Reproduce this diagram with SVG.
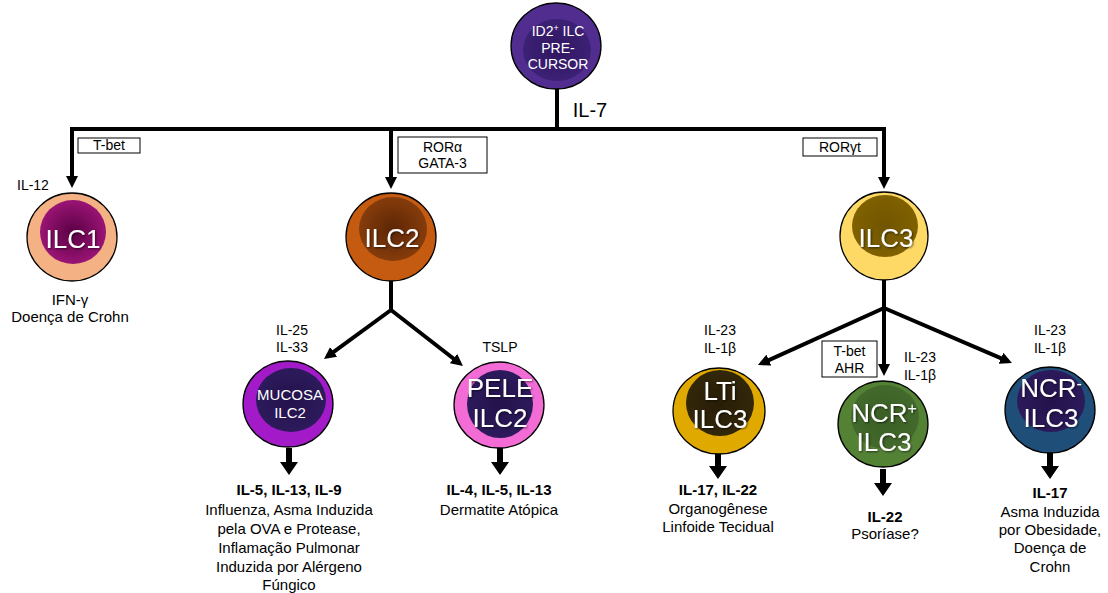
<svg xmlns="http://www.w3.org/2000/svg" xmlns:xlink="http://www.w3.org/1999/xlink" width="1108" height="593" viewBox="0 0 1108 593">
<defs>
<style>
text{font-family:"Liberation Sans",Arial,sans-serif;fill:#000;text-anchor:middle}
.lbl{font-size:14px}
.desc{font-size:15px}
.bold{font-size:15px;font-weight:bold}
.node{font-size:26px;fill:#fff;filter:url(#sh)}
.small{font-size:14px;fill:#fff}
.mid{font-size:15px;fill:#fff}
.outer{stroke:#000;stroke-width:1.3}
.conn{fill:none;stroke:#000;stroke-width:4;stroke-linejoin:miter}
.box{fill:#fff;stroke:#000;stroke-width:1}
</style>
<filter id="sh" x="-20%" y="-20%" width="140%" height="140%">
<feDropShadow dx="1" dy="1" stdDeviation="0.8" flood-color="#000" flood-opacity="0.6"/>
</filter>
<marker id="ah" viewBox="0 0 12 12" refX="8" refY="6" markerWidth="12" markerHeight="12" markerUnits="userSpaceOnUse" orient="auto">
<path d="M0,0 L12,6 L0,12 z" fill="#000"/>
</marker>
<path id="big" d="M-3,0 h6 v14 h6 l-9,13 l-9,-13 h6 z" fill="#000"/>
<radialGradient id="gTop"><stop offset="0" stop-color="#2f1660"/><stop offset="1" stop-color="#3d2176"/></radialGradient>
<radialGradient id="g1"><stop offset="0" stop-color="#5a0044"/><stop offset="1" stop-color="#9a1475"/></radialGradient>
<radialGradient id="g2"><stop offset="0" stop-color="#5c2605"/><stop offset="1" stop-color="#863c0b"/></radialGradient>
<radialGradient id="g3"><stop offset="0" stop-color="#715500"/><stop offset="1" stop-color="#806100"/></radialGradient>
<radialGradient id="gD"><stop offset="0" stop-color="#24124c"/><stop offset="1" stop-color="#2c1a5c"/></radialGradient>
<radialGradient id="gL"><stop offset="0" stop-color="#271d06"/><stop offset="1" stop-color="#33270a"/></radialGradient>
<radialGradient id="gN"><stop offset="0" stop-color="#3a5f25"/><stop offset="1" stop-color="#43692c"/></radialGradient>
</defs>

<g id="connectors">
<path class="conn" d="M557,88 V129"/>
<path class="conn" d="M72,184 V129 H884 V185" marker-end="url(#ah)"/>
<path class="conn" d="M72,129 V184" marker-end="url(#ah)"/>
<path class="conn" d="M391,129 V185" marker-end="url(#ah)"/>
<path class="conn" d="M391,281 V310"/>
<path class="conn" d="M391,310 L327.2,356.6" marker-end="url(#ah)"/>
<path class="conn" d="M391,310 L459.8,363.5" marker-end="url(#ah)"/>
<path class="conn" d="M884,280 V308"/>
<path class="conn" d="M884,308 L761.6,363.4" marker-end="url(#ah)"/>
<path class="conn" d="M884,308 V372" marker-end="url(#ah)"/>
<path class="conn" d="M884,308 L1008.3,361.4" marker-end="url(#ah)"/>
<use href="#big" x="289" y="448"/>
<use href="#big" x="500" y="448"/>
<use href="#big" x="718" y="452"/>
<use href="#big" x="883" y="469"/>
<use href="#big" x="1050" y="452"/>
</g>

<g id="il7"><text x="590" y="117" style="font-size:20px">IL-7</text></g>

<g id="precursor">
<ellipse class="outer" cx="556" cy="46" rx="45" ry="43" fill="#512d90"/>
<ellipse cx="557" cy="50" rx="34" ry="31" fill="url(#gTop)"/>
<text class="small" x="558" y="36">ID2<tspan font-size="9" baseline-shift="super">+</tspan> ILC</text>
<text class="small" x="558" y="53">PRE-</text>
<text class="small" x="558" y="69">CURSOR</text>
</g>

<g id="tbet1">
<rect class="box" x="78" y="138" width="62" height="15"/>
<text class="lbl" x="109" y="150">T-bet</text>
</g>
<g id="rora">
<rect class="box" x="398" y="137" width="89" height="36"/>
<text class="lbl" x="442.5" y="152">RORα</text>
<text class="lbl" x="442.5" y="168">GATA-3</text>
</g>
<g id="rorgt">
<rect class="box" x="803" y="138" width="74" height="18"/>
<text class="lbl" x="840" y="152">RORγt</text>
</g>

<g id="ilc1">
<text class="lbl" x="17" y="190" style="text-anchor:start">IL-12</text>
<ellipse class="outer" cx="72" cy="237" rx="45" ry="44" fill="#f4b183"/>
<ellipse cx="73" cy="232" rx="33" ry="32" fill="url(#g1)"/>
<text class="node" x="73" y="248">ILC1</text>
<text class="desc" x="70" y="305">IFN-γ</text>
<text class="desc" x="70" y="322">Doença de Crohn</text>
</g>

<g id="ilc2">
<ellipse class="outer" cx="391" cy="237" rx="45" ry="44" fill="#c55a11"/>
<ellipse cx="393" cy="229" rx="34" ry="32" fill="url(#g2)"/>
<text class="node" x="392" y="247">ILC2</text>
</g>

<g id="ilc3">
<ellipse class="outer" cx="884" cy="236" rx="44" ry="44" fill="#ffd966"/>
<ellipse cx="885" cy="226" rx="33" ry="31" fill="url(#g3)"/>
<text class="node" x="886" y="247">ILC3</text>
</g>

<g id="mucosa">
<text class="lbl" x="292" y="335">IL-25</text>
<text class="lbl" x="292" y="352">IL-33</text>
<ellipse class="outer" cx="288" cy="404" rx="45" ry="43" fill="#a31bc8"/>
<ellipse cx="291" cy="400" rx="35" ry="32" fill="url(#gD)"/>
<text class="mid" x="290" y="400">MUCOSA</text>
<text class="mid" x="290" y="418">ILC2</text>
<text class="bold" x="289" y="495">IL-5, IL-13, IL-9</text>
<text class="desc" x="289" y="515">Influenza, Asma Induzida</text>
<text class="desc" x="289" y="534">pela OVA e Protease,</text>
<text class="desc" x="289" y="553">Inflamação Pulmonar</text>
<text class="desc" x="289" y="572">Induzida por Alérgeno</text>
<text class="desc" x="289" y="590">Fúngico</text>
</g>

<g id="pele">
<text class="lbl" x="500" y="352">TSLP</text>
<ellipse class="outer" cx="499" cy="405" rx="45" ry="43" fill="#f36cd6"/>
<ellipse cx="500" cy="404" rx="33" ry="34" fill="url(#gD)"/>
<text class="node" x="500" y="397">PELE</text>
<text class="node" x="500" y="427">ILC2</text>
<text class="bold" x="499" y="495">IL-4, IL-5, IL-13</text>
<text class="desc" x="499" y="515">Dermatite Atópica</text>
</g>

<g id="lti">
<text class="lbl" x="720" y="335">IL-23</text>
<text class="lbl" x="720" y="353">IL-1β</text>
<ellipse class="outer" cx="719" cy="411" rx="46" ry="43" fill="#e0a900"/>
<ellipse cx="720" cy="403" rx="34" ry="33" fill="url(#gL)"/>
<text class="node" x="720" y="400">LTi</text>
<text class="node" x="720" y="428">ILC3</text>
<text class="bold" x="718" y="495">IL-17, IL-22</text>
<text class="desc" x="718" y="514">Organogênese</text>
<text class="desc" x="718" y="532">Linfoide Tecidual</text>
</g>

<g id="ncrplus">
<rect class="box" x="822" y="341" width="55" height="36"/>
<text class="lbl" x="849.5" y="356">T-bet</text>
<text class="lbl" x="849.5" y="373">AHR</text>
<text class="lbl" x="920" y="362">IL-23</text>
<text class="lbl" x="920" y="380">IL-1β</text>
<ellipse class="outer" cx="883" cy="424" rx="45" ry="43" fill="#548235"/>
<ellipse cx="885" cy="417" rx="34" ry="32" fill="url(#gN)"/>
<text class="node" x="884" y="422">NCR<tspan font-size="16" baseline-shift="super">+</tspan></text>
<text class="node" x="884" y="451">ILC3</text>
<text class="bold" x="885" y="522">IL-22</text>
<text class="desc" x="885" y="539">Psoríase?</text>
</g>

<g id="ncrminus">
<text class="lbl" x="1050" y="335">IL-23</text>
<text class="lbl" x="1050" y="353">IL-1β</text>
<ellipse class="outer" cx="1050" cy="410" rx="45" ry="43" fill="#1f4e79"/>
<ellipse cx="1051" cy="401" rx="34" ry="31" fill="url(#gD)"/>
<text class="node" x="1051" y="397">NCR<tspan font-size="16" baseline-shift="super">-</tspan></text>
<text class="node" x="1051" y="427">ILC3</text>
<text class="bold" x="1050" y="498">IL-17</text>
<text class="desc" x="1050" y="517">Asma Induzida</text>
<text class="desc" x="1050" y="535">por Obesidade,</text>
<text class="desc" x="1050" y="553">Doença de</text>
<text class="desc" x="1050" y="572">Crohn</text>
</g>
</svg>
